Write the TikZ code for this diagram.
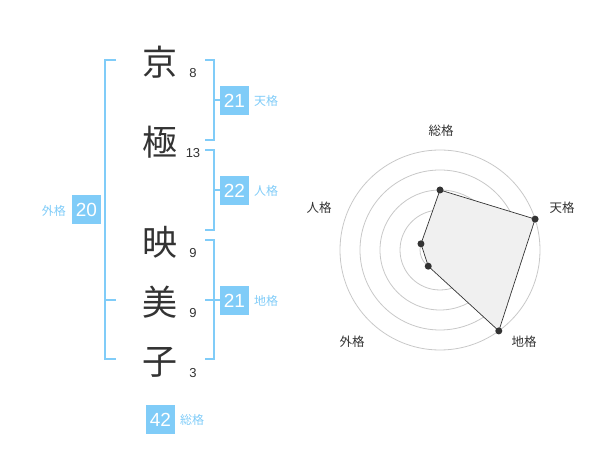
\documentclass[tikz,border=0pt]{standalone}
\usepackage{fontspec}
\usetikzlibrary{calc}
\setmainfont{Liberation Sans}
\newfontfamily\jp{Noto Sans CJK JP}
\definecolor{kblue}{HTML}{80CCF8}
\definecolor{ktext}{HTML}{333333}
\definecolor{kgrid}{HTML}{C8C8C8}
\begin{document}
\begin{tikzpicture}[x=1pt,y=-1pt,
  kanji/.style={font=\jp\fontsize{35}{35}\selectfont, text=ktext, inner sep=0},
  strokes/.style={font=\fontsize{13}{13}\selectfont, text=ktext, inner sep=0},
  numbox/.style={fill=kblue, text=white, minimum width=29pt, minimum height=29pt, inner sep=0, font=\fontsize{19}{19}\selectfont},
  kakulabel/.style={font=\jp\fontsize{12}{12}\selectfont, text=kblue, inner sep=0, anchor=west},
  brack/.style={draw=kblue, line width=1.8pt},
  radlabel/.style={font=\jp\fontsize{12.5}{12.5}\selectfont, text=ktext, inner sep=0},
  ring/.style={draw=kgrid, line width=0.8pt},
  pt/.style={circle, fill=ktext, inner sep=0, minimum size=7pt}]
\useasboundingbox (0,0) rectangle (600,470);
% kanji
\node[kanji] (k1) at (160,62) {京};
\node[kanji] (k2) at (160,142) {極};
\node[kanji] (k3) at (160,242) {映};
\node[kanji] (k4) at (160,302) {美};
\node[kanji] (k5) at (160,362) {子};
\node[strokes] (s1) at (193,73) {8};
\node[strokes] (s2) at (193,153) {13};
\node[strokes] (s3) at (193,253) {9};
\node[strokes] (s4) at (193,313) {9};
\node[strokes] (s5) at (193,373) {3};
% right brackets
\draw[brack] (205,60) -- (214,60) -- (214,140) -- (205,140);
\draw[brack] (205,150) -- (214,150) -- (214,230) -- (205,230);
\draw[brack] (205,240) -- (214,240) -- (214,359) -- (205,359);
\draw[brack] (205,300) -- (214,300);
\draw[brack] (214,100) -- (220,100);
\draw[brack] (214,190) -- (220,190);
\draw[brack] (214,300) -- (220,300);
% left bracket
\draw[brack] (116,60) -- (105,60) -- (105,359) -- (116,359);
\draw[brack] (105,300) -- (116,300);
% boxes
\node[numbox] (b1) at (234.5,100.5) {21};
\node[kakulabel] (l1) at (254,101) {\jp 天格};
\node[numbox] (b2) at (234.5,190.5) {22};
\node[kakulabel] (l2) at (254,191) {\jp 人格};
\node[numbox] (b3) at (234.5,300.5) {21};
\node[kakulabel] (l3) at (254,301) {\jp 地格};
\node[numbox] (b4) at (86.5,210) {20};
\node[kakulabel, anchor=east] (l4) at (66,211) {\jp 外格};
\node[numbox] (b5) at (160.5,419.5) {42};
\node[kakulabel] (l5) at (180,420) {\jp 総格};
% radar
\coordinate (c) at (440,250);
\foreach \r in {20,40,60,80,100} \draw[ring] (c) circle[radius=\r];
\fill[kgrid] (c) circle[radius=3.5];
\coordinate (p1) at ($(c)+(0,-60)$);
\coordinate (p2) at ($(c)+(95.1,-30.9)$);
\coordinate (p3) at ($(c)+(58.8,80.9)$);
\coordinate (p4) at ($(c)+(-11.76,16.18)$);
\coordinate (p5) at ($(c)+(-19.02,-6.18)$);
\filldraw[fill=black!6, draw=ktext, line width=0.7pt] (p1) -- (p2) -- (p3) -- (p4) -- (p5) -- cycle;
\foreach \p in {p1,p2,p3,p4,p5} \node[pt] at (\p) {};
\node[radlabel] (r1) at (441,131) {総格};
\node[radlabel] (r2) at (562,208) {天格};
\node[radlabel] (r3) at (524,342) {地格};
\node[radlabel] (r4) at (352,342) {外格};
\node[radlabel] (r5) at (319,208) {人格};
\end{tikzpicture}
\end{document}
